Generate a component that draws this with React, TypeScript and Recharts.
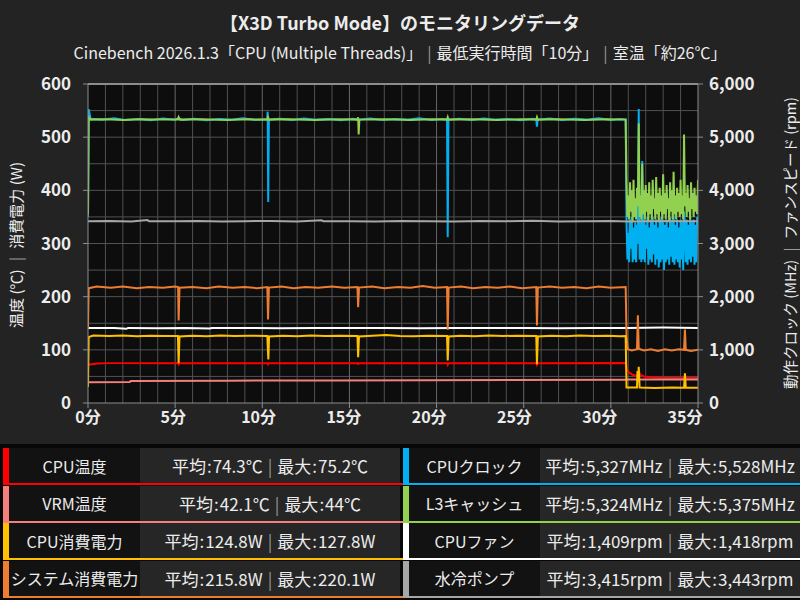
import { CartesianGrid, Line, LineChart, ReferenceLine, XAxis, YAxis } from "recharts";

// Cinebench multi-thread monitoring log: temps / power on the left axis,
// clocks / fan speeds on the right axis, with an avg/max table underneath.

type Pt = [number, number];

const xTicks = [0, 5, 10, 15, 20, 25, 30, 35];
const leftTicks = [0, 100, 200, 300, 400, 500, 600];
const rightTicks = [0, 1000, 2000, 3000, 4000, 5000, 6000];
// grid lines: one per minute, one per 50 units on the left axis
const minuteLines = Array.from({ length: 36 }, (_, i) => i).filter((m) => m % 5 !== 0);
const halfLines = Array.from({ length: 12 }, (_, i) => i * 50).filter((v) => v > 0);

// [minutes, value]
const cpuTemp: Pt[] = [
  [0, 72], [0.5, 74.5], [1.2, 75], [5.18, 75], [5.2, 73], [5.24, 75], [10.3, 75], [10.33, 73],
  [10.37, 75], [15.47, 75], [15.5, 73.5], [15.54, 75], [20.61, 75], [20.64, 72], [20.68, 75],
  [25.73, 75], [25.76, 72], [25.8, 75], [30.85, 75.2], [30.92, 63], [31.05, 57], [31.25, 53],
  [31.5, 51], [31.6, 60], [31.7, 53], [31.9, 50], [32.3, 48.5], [32.8, 47.5], [34.2, 47],
  [34.25, 52], [34.32, 47.5], [35, 47],
];

const vrmTemp: Pt[] = [
  [0, 39], [2.4, 39.5], [2.45, 41.5], [8, 42], [14, 42.5], [19.5, 43], [30.85, 43.5], [30.95, 44], [35, 44],
];

const cpuPower: Pt[] = [
  [0, 30], [0.04, 124], [0.3, 127], [1.2, 126], [2.0, 127], [2.8, 125.5], [3.6, 126.5], [4.4, 126],
  [5.16, 126], [5.2, 75], [5.25, 125], [6.0, 126.5], [6.8, 125.5], [7.6, 127], [8.4, 126], [9.2, 126.5],
  [10.29, 126], [10.32, 100], [10.35, 82], [10.39, 125], [11.2, 126.5], [12.0, 125.5], [12.8, 127],
  [13.6, 126], [14.4, 126.5], [15.46, 126], [15.5, 86], [15.55, 125], [16.3, 126.5], [17.1, 127.8],
  [17.9, 126], [18.7, 125.5], [19.5, 126.5], [20.6, 126], [20.64, 80], [20.69, 125], [21.4, 126.5],
  [22.2, 125.5], [23.0, 127], [23.8, 126], [24.6, 126.5], [25.72, 126], [25.76, 73], [25.81, 125],
  [26.6, 126.5], [27.4, 125.5], [28.2, 127], [29.0, 126], [29.8, 126.5], [30.5, 125.5], [30.85, 126],
  [30.9, 29], [31.5, 29], [31.53, 60], [31.56, 40], [31.6, 68], [31.65, 29], [32.5, 28], [33.5, 29],
  [34.2, 28.5], [34.25, 56], [34.3, 29], [35, 28.5],
];

const systemPower: Pt[] = [
  [0, 140], [0.04, 216], [0.5, 219], [1.3, 217], [2.0, 219], [2.8, 216], [3.5, 218], [4.3, 217],
  [5.0, 219], [5.17, 218], [5.2, 155], [5.25, 217], [6.0, 218], [6.8, 216], [7.5, 219], [8.3, 217],
  [9.0, 218], [9.7, 216], [10.29, 218], [10.33, 157], [10.38, 217], [11.1, 219], [11.8, 216],
  [12.5, 218], [13.2, 217], [14.0, 219], [14.7, 217], [15.46, 218], [15.5, 180], [15.55, 217],
  [16.3, 219], [17.0, 216], [17.8, 218], [18.5, 217], [19.2, 220.1], [19.9, 217], [20.6, 218],
  [20.64, 138], [20.69, 217], [21.4, 219], [22.1, 216], [22.8, 218], [23.5, 217], [24.2, 219],
  [24.9, 216], [25.72, 218], [25.76, 146], [25.81, 217], [26.5, 219], [27.2, 217], [27.9, 218],
  [28.6, 216], [29.3, 219], [30.0, 217], [30.85, 218], [30.9, 125], [30.97, 101], [31.2, 99],
  [31.5, 101], [31.55, 165], [31.6, 102], [31.9, 99], [32.3, 101], [32.7, 98], [33.1, 101],
  [33.5, 99], [33.9, 101], [34.2, 100], [34.25, 138], [34.3, 100], [34.6, 98], [35, 100],
];

const clockSteady: Pt[] = [
  [0, 3500], [0.04, 5528], [0.15, 5345], [0.8, 5330], [1.5, 5355], [2.1, 5325], [2.9, 5340],
  [3.6, 5320], [4.3, 5350], [5.0, 5330], [5.2, 5360], [5.4, 5325], [6.1, 5345], [6.8, 5320],
  [7.5, 5340], [8.2, 5330], [8.9, 5355], [9.6, 5325], [10.28, 5340], [10.31, 5480], [10.34, 3780],
  [10.38, 5330], [11.0, 5345], [11.7, 5325], [12.4, 5350], [13.1, 5330], [13.8, 5340], [14.5, 5320],
  [15.2, 5345], [15.5, 5330], [16.2, 5350], [16.9, 5325], [17.6, 5340], [18.3, 5330], [19.0, 5355],
  [19.7, 5325], [20.3, 5340], [20.6, 5335], [20.64, 3120], [20.68, 5330], [21.3, 5345], [22.0, 5325],
  [22.7, 5350], [23.4, 5330], [24.1, 5340], [24.8, 5320], [25.5, 5345], [25.72, 5335], [25.76, 5200],
  [25.8, 5330], [26.5, 5350], [27.2, 5325], [27.9, 5345], [28.6, 5330], [29.3, 5355], [30.0, 5325],
  [30.5, 5340], [30.85, 5335],
];

const l3Steady: Pt[] = [
  [0, 3550], [0.04, 5375], [0.15, 5330], [1.0, 5335], [2.0, 5325], [3.0, 5335], [4.0, 5330],
  [5.15, 5330], [5.2, 5375], [5.26, 5330], [6.5, 5335], [8, 5325], [9.2, 5335], [10.29, 5330],
  [10.33, 5375], [10.38, 5330], [11.5, 5335], [13, 5325], [14.3, 5335], [15.46, 5330], [15.5, 5375],
  [15.53, 5050], [15.57, 5330], [17, 5335], [18.5, 5325], [19.7, 5335], [20.6, 5330], [20.64, 5375],
  [20.68, 5330], [22, 5335], [23.5, 5325], [24.8, 5335], [25.72, 5330], [25.76, 5375], [25.8, 5330],
  [27, 5335], [28.5, 5325], [29.8, 5335], [30.85, 5330],
];

// after the run ends the clocks bounce around; sampled every 0.05 min
const tailTimes = [
  30.9, 30.95, 31.0, 31.05, 31.1, 31.15, 31.2, 31.25, 31.3, 31.35,
  31.4, 31.45, 31.5, 31.55, 31.6, 31.65, 31.7, 31.75, 31.8, 31.85,
  31.9, 31.95, 32.0, 32.05, 32.1, 32.15, 32.2, 32.25, 32.3, 32.35,
  32.4, 32.45, 32.5, 32.55, 32.6, 32.65, 32.7, 32.75, 32.8, 32.85,
  32.9, 32.95, 33.0, 33.05, 33.1, 33.15, 33.2, 33.25, 33.3, 33.35,
  33.4, 33.45, 33.5, 33.55, 33.6, 33.65, 33.7, 33.75, 33.8, 33.85,
  33.9, 33.95, 34.0, 34.05, 34.1, 34.15, 34.2, 34.25, 34.3, 34.35,
  34.4, 34.45, 34.5, 34.55, 34.6, 34.65, 34.7, 34.75, 34.8, 34.85,
  34.9, 34.95, 35.0,
];
const clockTail = [
  3350, 2700, 3200, 2650, 3450, 2900, 3500, 2650, 3300, 2700,
  3400, 2650, 3350, 3000, 5528, 2700, 3400, 2650, 4550, 2700,
  3450, 2650, 3350, 2900, 3500, 2600, 3300, 2700, 3450, 2650,
  3500, 2800, 3350, 2600, 3450, 2700, 3300, 2550, 3450, 2650,
  3500, 2700, 3400, 2500, 3350, 2650, 3450, 2700, 3300, 2600,
  3500, 2750, 3400, 2650, 3550, 2600, 3350, 2700, 3450, 2650,
  3300, 2550, 3450, 2700, 3400, 2500, 3600, 3300, 2650, 3450,
  2600, 3350, 2700, 3500, 2650, 3400, 2750, 3450, 2600, 3350,
  2650, 3500, 3400,
];
const l3Tail = [
  4100, 3500, 3900, 3450, 4150, 3600, 4000, 3400, 4200, 3500,
  3850, 3450, 4050, 3700, 5260, 3500, 3900, 3450, 4500, 3550,
  4000, 3450, 4100, 3600, 3950, 3400, 4150, 3550, 3900, 3450,
  4200, 3650, 3850, 3450, 4250, 3550, 3950, 3400, 4050, 3600,
  3900, 3450, 4300, 3550, 3950, 3450, 4100, 3650, 3850, 3400,
  4150, 3600, 4000, 3450, 4350, 3550, 3900, 3450, 4050, 3600,
  3950, 3500, 4200, 3550, 3900, 3450, 5050, 3700, 3950, 3500,
  4100, 3600, 3850, 3450, 4150, 3650, 3950, 3500, 4050, 3600,
  3900, 3550, 4200,
];

const cpuFan: Pt[] = [
  [0, 1410], [1.5, 1412], [2.2, 1395], [2.3, 1412], [4, 1408], [5.6, 1412], [7, 1400], [7.1, 1410],
  [9, 1412], [11, 1408], [13, 1412], [15, 1410], [17, 1412], [19, 1408], [21, 1412], [23, 1410],
  [25, 1412], [27, 1408], [29, 1412], [31, 1410], [33, 1418], [35, 1412],
];

const pump: Pt[] = [
  [0, 3420], [1.2, 3425], [2.5, 3415], [3.4, 3443], [3.5, 3420], [5.0, 3418], [6.3, 3425],
  [7.7, 3415], [9.0, 3420], [10.5, 3425], [12, 3415], [13.4, 3435], [13.5, 3420], [15, 3420],
  [16.5, 3415], [18, 3425], [19.5, 3420], [21, 3415], [22.5, 3425], [24, 3420], [25.5, 3430],
  [27, 3415], [28.5, 3420], [30, 3425], [31, 3415], [32, 3420], [33, 3425], [34, 3418], [35, 3420],
];

const seriesNames = ["CPU温度", "VRM温度", "CPU消費電力", "システム消費電力", "CPUクロック", "L3キャッシュ", "CPUファン", "水冷ポンプ"];
const avgLabels = ["74.3℃", "42.1℃", "124.8W", "215.8W", "5,327MHz", "5,324MHz", "1,409rpm", "3,415rpm"];
const maxLabels = ["75.2℃", "44℃", "127.8W", "220.1W", "5,528MHz", "5,375MHz", "1,418rpm", "3,443rpm"];

const COLORS = ["#ff0000", "#f4807c", "#ffc000", "#ed7d31", "#00b0f0", "#92d050", "#ffffff", "#a6a6a6"];
const FONT = '"Noto Sans CJK JP", "Noto Sans", sans-serif';
const AXIS = "#8c8c8c";
const LABEL = "#ececec";

const rows = (pts: Pt[]) => pts.map(([t, v]) => ({ t, v }));
const withTail = (pts: Pt[], tail: number[]) => rows([...pts, ...tailTimes.map((t, i) => [t, tail[i]] as Pt)]);

const lines = [
  { axis: "right", data: withTail(clockSteady, clockTail), color: COLORS[4] },
  { axis: "right", data: withTail(l3Steady, l3Tail), color: COLORS[5] },
  { axis: "right", data: rows(pump), color: COLORS[7] },
  { axis: "right", data: rows(cpuFan), color: COLORS[6] },
  { axis: "left", data: rows(cpuTemp), color: COLORS[0] },
  { axis: "left", data: rows(vrmTemp), color: COLORS[1] },
  { axis: "left", data: rows(systemPower), color: COLORS[3] },
  { axis: "left", data: rows(cpuPower), color: COLORS[2] },
];

const tickStyle = { fill: LABEL, fontSize: 17, fontWeight: 700 };

// minute labels drift a little left of their tick marks toward the right end
function MinuteTick({ x, y, payload }: any) {
  const shift = -(payload.value / 35) * 13;
  return (
    <text x={x + shift} y={y} dy="0.75em" textAnchor="middle" fill={LABEL} fontSize={16} fontWeight={700}>
      {`${payload.value}分`}
    </text>
  );
}

function Sep() {
  return <span style={{ color: "#9a9a9a", margin: "0 5px" }}>|</span>;
}

function StatRow({ i, x, y }: { i: number; x: number; y: number }) {
  const color = COLORS[i];
  return (
    <>
      <div style={{ position: "absolute", left: x, top: y, width: 6, height: 37, background: color }} />
      <div
        style={{
          position: "absolute", left: x + 6, top: y, width: 131, height: 35, background: "#121212",
          display: "flex", alignItems: "center", justifyContent: "center", fontSize: 16,
        }}
      >
        {seriesNames[i]}
      </div>
      <div
        style={{
          position: "absolute", left: x + 137, top: y, width: 260, height: 35, background: "#262626",
          display: "flex", alignItems: "center", justifyContent: "center", fontSize: 17, whiteSpace: "nowrap",
        }}
      >
        平均<span style={{ margin: "0 1px" }}>:</span>{avgLabels[i]}
        <Sep />
        最大<span style={{ margin: "0 1px" }}>:</span>{maxLabels[i]}
      </div>
      <div style={{ position: "absolute", left: x + 6, top: y + 35, width: 397, height: 2, background: color }} />
    </>
  );
}

export default function App() {
  return (
    <div
      style={{
        position: "absolute", left: 0, top: 0, width: 800, height: 600, background: "#232323",
        color: LABEL, fontFamily: FONT, overflow: "hidden",
      }}
    >
      <div style={{ position: "absolute", left: 0, top: 0 }}>
        <LineChart width={800} height={430} margin={{ top: 84, right: 30, bottom: 2, left: 30 }}>
          {/* plot background only; grid lines are reference lines on the axis scales */}
          <CartesianGrid yAxisId="left" horizontal={false} vertical={false} fill="#0d0d0d" fillOpacity={1} />
          {minuteLines.map((m) => (
            <ReferenceLine key={`m${m}`} x={m} yAxisId="left" stroke="#505050" zIndex={-50} />
          ))}
          {halfLines.map((v) => (
            <ReferenceLine key={`h${v}`} y={v} yAxisId="left" stroke="#525252" zIndex={-50} />
          ))}
          {xTicks.slice(1, -1).map((m) => (
            <ReferenceLine key={`x${m}`} x={m} yAxisId="left" stroke="#686868" zIndex={-50} />
          ))}
          <XAxis
            dataKey="t"
            type="number"
            domain={[0, 35]}
            ticks={xTicks}
            interval={0}
            allowDataOverflow
            height={25}
            tickSize={5}
            tickMargin={3}
            stroke={AXIS}
            tick={<MinuteTick />}
          />
          <YAxis
            yAxisId="left"
            domain={[0, 600]}
            ticks={leftTicks}
            interval={0}
            width={58}
            tickSize={5}
            tickMargin={12}
            stroke={AXIS}
            tick={tickStyle}
          />
          <YAxis
            yAxisId="right"
            orientation="right"
            domain={[0, 6000]}
            ticks={rightTicks}
            interval={0}
            width={72}
            tickSize={5}
            tickMargin={6}
            stroke={AXIS}
            tick={tickStyle}
            tickFormatter={(v: number) => v.toLocaleString("en-US")}
          />
          <ReferenceLine yAxisId="left" y={600} stroke={AXIS} strokeWidth={2} />
          {lines.map((l, i) => (
            <Line
              key={i}
              yAxisId={l.axis}
              data={l.data}
              dataKey="v"
              type="linear"
              stroke={l.color}
              strokeWidth={2}
              dot={false}
              activeDot={false}
              isAnimationActive={false}
            />
          ))}
        </LineChart>
      </div>

      <div style={{ position: "absolute", left: 0, top: 9, width: 800, textAlign: "center", fontSize: 18, fontWeight: 700, lineHeight: "26px" }}>
        【X3D Turbo Mode】のモニタリングデータ
      </div>
      <div style={{ position: "absolute", left: 0, top: 40, width: 800, textAlign: "center", fontSize: 16, lineHeight: "24px" }}>
        Cinebench 2026.1.3「CPU (Multiple Threads)」<Sep />最低実行時間「10分」<Sep />室温「約26℃」
      </div>

      <div
        style={{
          position: "absolute", left: 15, top: 245, transform: "translate(-50%, -50%) rotate(-90deg)",
          whiteSpace: "nowrap", fontSize: 15,
        }}
      >
        温度 (℃) <Sep /> 消費電力 (W)
      </div>
      <div
        style={{
          position: "absolute", left: 789, top: 243, transform: "translate(-50%, -50%) rotate(-90deg)",
          whiteSpace: "nowrap", fontSize: 14.5,
        }}
      >
        動作クロック (MHz) <Sep /> ファンスピード (rpm)
      </div>

      <div style={{ position: "absolute", left: 0, top: 444, width: 800, height: 156, background: "#070707" }} />
      {[0, 1, 2, 3].map((r) => (
        <StatRow key={r} i={r} x={3} y={448 + r * 37.5} />
      ))}
      {[4, 5, 6, 7].map((i) => (
        <StatRow key={i} i={i} x={403} y={448 + (i - 4) * 37.5} />
      ))}
    </div>
  );
}
